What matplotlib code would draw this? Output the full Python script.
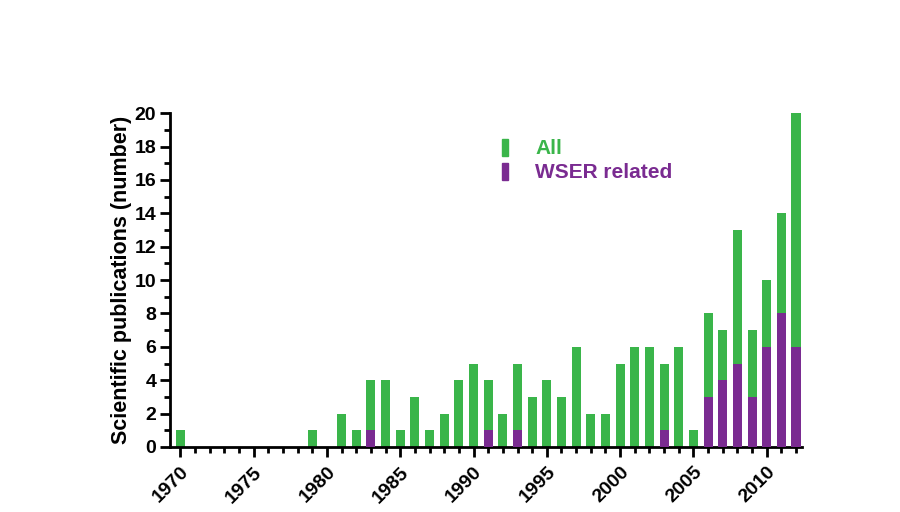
import matplotlib
matplotlib.use("Agg")
import matplotlib.pyplot as plt
import numpy as np
from matplotlib.patches import Patch

plt.rcParams['font.family'] = ['Liberation Sans', 'DejaVu Sans']

years = list(range(1970, 2013))
all_pubs = [1, 0, 0, 0, 0, 0, 0, 0, 0, 1,
            0, 2, 1, 4, 4, 1, 3, 1, 2, 4,
            5, 4, 2, 5, 3, 4, 3, 6, 2, 2,
            5, 6, 6, 5, 6, 1, 8, 7, 13, 7,
            10, 14, 20]
wser_pubs = [0, 0, 0, 0, 0, 0, 0, 0, 0, 0,
             0, 0, 0, 1, 0, 0, 0, 0, 0, 0,
             0, 1, 0, 1, 0, 0, 0, 0, 0, 0,
             0, 0, 0, 1, 0, 0, 3, 4, 5, 3,
             6, 8, 6]

green = "#3AB54A"
purple = "#7A2B91"

fig = plt.figure(figsize=(9, 5.12), dpi=100)
ax = fig.add_axes([0.189, 0.127, 0.702, 0.652])

ax.bar(years, all_pubs, width=0.62, color=green, zorder=2)
ax.bar(years, wser_pubs, width=0.62, color=purple, zorder=3)

ax.set_xlim(1969.3, 2012.4)
ax.set_ylim(0, 20)
ax.set_xticks(range(1970, 2011, 5))
ax.set_xticks(years, minor=True)
ax.set_yticks(range(0, 21, 2))
ax.set_yticks(range(0, 21), minor=True)

for side in ["top", "right"]:
    ax.spines[side].set_visible(False)
for side in ["left", "bottom"]:
    ax.spines[side].set_linewidth(2)
    ax.spines[side].set_color("black")

ax.tick_params(which="major", length=7, width=2, direction="out", pad=3)
ax.tick_params(axis="x", which="major", pad=5)
ax.tick_params(which="minor", length=4, width=2, direction="out")
for lab in ax.get_xticklabels():
    lab.set_rotation(45)
    lab.set_ha("right")
    lab.set_rotation_mode("anchor")
    lab.set_fontweight("bold")
    lab.set_fontsize(14)
for lab in ax.get_yticklabels():
    lab.set_fontweight("bold")
    lab.set_fontsize(14)

ax.set_ylabel("Scientific publications (number)", fontweight="bold", fontsize=15.5)
ax.yaxis.set_label_coords(-0.06, 0.5)

handles = [Patch(color=green, label="All"), Patch(color=purple, label="WSER related")]
ax.legend(handles=handles, loc="upper left", bbox_to_anchor=(0.537, 0.766),
          bbox_transform=fig.transFigure, frameon=False, handlelength=0.3,
          handleheight=0.9, handletextpad=1.3, labelspacing=0.2,
          prop={"weight": "bold", "size": 15}, labelcolor=[green, purple])

fig.savefig("out.png", dpi=100)
